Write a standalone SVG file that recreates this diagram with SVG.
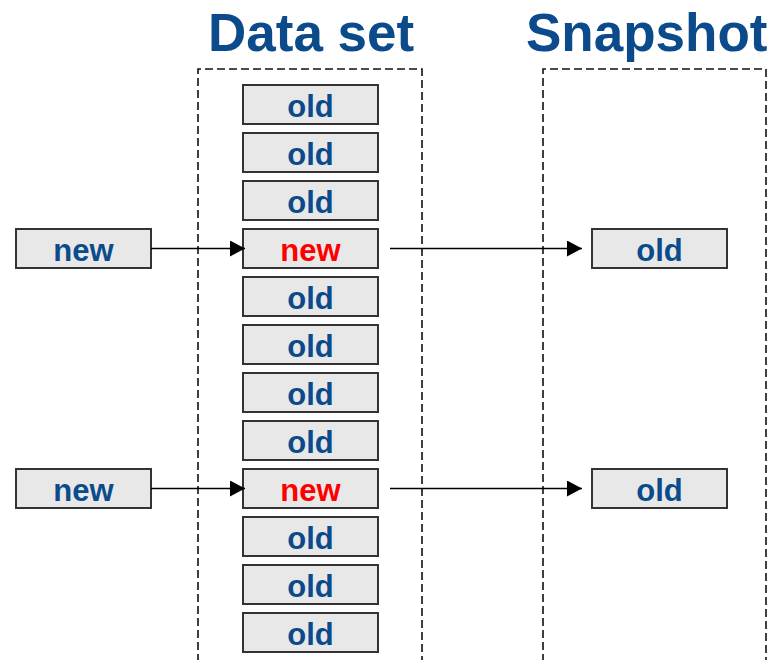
<svg xmlns="http://www.w3.org/2000/svg" width="770" height="660" viewBox="0 0 770 660">
<style>
.title{font-family:"Liberation Sans",Arial,sans-serif;font-weight:bold;font-size:53px;fill:#0B4B8C}
.frame{fill:none;stroke:#111;stroke-width:1.6;stroke-dasharray:8 4}
.box rect{fill:#E8E8E8;stroke:#333;stroke-width:2}
.box text{font-family:"Liberation Sans",Arial,sans-serif;font-weight:bold;font-size:31px;fill:#0B4B8C;text-anchor:middle}
.box text.red{fill:#FF0000}
.conn{stroke:#000;stroke-width:1.3;fill:none;marker-end:url(#arr)}
</style>
<defs>
<marker id="arr" viewBox="0 0 15 16" refX="15" refY="8" markerWidth="15" markerHeight="16" markerUnits="userSpaceOnUse" orient="auto">
<path d="M0,0 L15,8 L0,16 z" fill="#000"/>
</marker>
</defs>
<rect width="770" height="660" fill="#fff"/>
<text class="title" x="208" y="51">Data set</text>
<text class="title" x="526" y="51">Snapshot</text>
<path class="frame" d="M198,662 V69 H422 V662"/>
<path class="frame" d="M543,662 V69 H766 V662"/>
<g id="ds1" class="box"><rect x="243" y="85" width="135" height="39"/><text x="310.5" y="117">old</text></g>
<g id="ds2" class="box"><rect x="243" y="133" width="135" height="39"/><text x="310.5" y="165">old</text></g>
<g id="ds3" class="box"><rect x="243" y="181" width="135" height="39"/><text x="310.5" y="213">old</text></g>
<g id="ds4" class="box"><rect x="243" y="229" width="135" height="39"/><text class="red" x="310.5" y="261">new</text></g>
<g id="ds5" class="box"><rect x="243" y="277" width="135" height="39"/><text x="310.5" y="309">old</text></g>
<g id="ds6" class="box"><rect x="243" y="325" width="135" height="39"/><text x="310.5" y="357">old</text></g>
<g id="ds7" class="box"><rect x="243" y="373" width="135" height="39"/><text x="310.5" y="405">old</text></g>
<g id="ds8" class="box"><rect x="243" y="421" width="135" height="39"/><text x="310.5" y="453">old</text></g>
<g id="ds9" class="box"><rect x="243" y="469" width="135" height="39"/><text class="red" x="310.5" y="501">new</text></g>
<g id="ds10" class="box"><rect x="243" y="517" width="135" height="39"/><text x="310.5" y="549">old</text></g>
<g id="ds11" class="box"><rect x="243" y="565" width="135" height="39"/><text x="310.5" y="597">old</text></g>
<g id="ds12" class="box"><rect x="243" y="613" width="135" height="39"/><text x="310.5" y="645">old</text></g>
<g id="in1" class="box"><rect x="16" y="229" width="135" height="39"/><text x="83.5" y="261">new</text></g>
<g id="in2" class="box"><rect x="16" y="469" width="135" height="39"/><text x="83.5" y="501">new</text></g>
<g id="snap1" class="box"><rect x="592" y="229" width="135" height="39"/><text x="659.5" y="261">old</text></g>
<g id="snap2" class="box"><rect x="592" y="469" width="135" height="39"/><text x="659.5" y="501">old</text></g>
<g id="connectors">
<line class="conn" x1="151" y1="248.5" x2="245" y2="248.5"/>
<line class="conn" x1="390" y1="248.5" x2="582" y2="248.5"/>
<line class="conn" x1="151" y1="488.5" x2="245" y2="488.5"/>
<line class="conn" x1="390" y1="488.5" x2="582" y2="488.5"/>
</g>
</svg>
